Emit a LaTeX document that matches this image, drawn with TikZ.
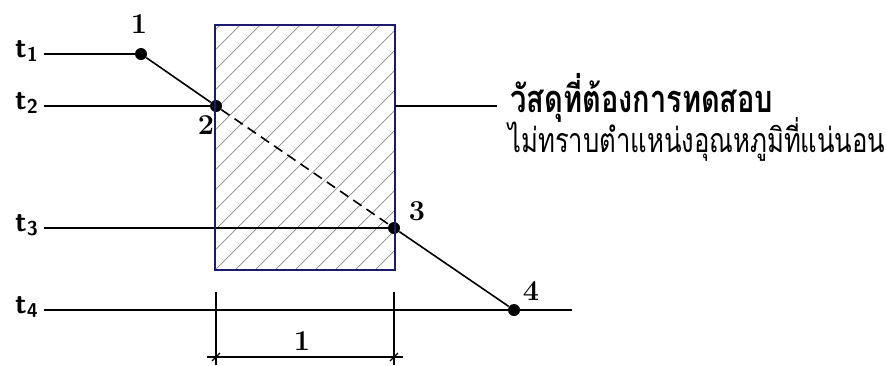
\documentclass[tikz,border=0pt]{standalone}
\usepackage{fontspec}
\usepackage{graphicx}
\newfontfamily\thaifont[Script=Thai]{Loma}
\usepackage{tikz}
\usetikzlibrary{positioning}
\definecolor{SpecBlue}{HTML}{1A1A6E}
\definecolor{HatchGray}{HTML}{8A8A8A}

\begin{document}
\begin{tikzpicture}[x=0.5pt, y=-0.5pt]
\tikzset{
  dot/.style={circle, fill=black, minimum size=6pt, inner sep=0},
  tlabel/.style={font=\sffamily\bfseries\Large, inner sep=0},
  numlabel/.style={font=\bfseries\Large, inner sep=0},
  isotherm/.style={line width=0.6pt},
  specimen/.style={draw=SpecBlue, line width=1.4pt},
  hatch/.style={HatchGray, line width=0.35pt},
  gradient/.style={line width=0.8pt},
}
  \useasboundingbox (0,0) rectangle (886,365);

  % hatched specimen
  \fill[white] (215,25) rectangle (395,270);
  \begin{scope}
    \clip (215,25) rectangle (395,270);
    \foreach \i in {-260,-240,...,180}
      \draw[hatch] (215+\i,270) -- ++(245,-245);
  \end{scope}
  \coordinate (boxE) at (395,106);

  % measuring points
  \node[dot] (p1) at (141,54) {};
  \node[dot] (p2) at (216,106) {};
  \node[dot] (p3) at (394,228) {};
  \node[dot] (p4) at (514,310) {};
  \node[numlabel] (n1) at (139,24) {1};
  \node[numlabel] (n2) at (206,125) {2};
  \node[numlabel] (n3) at (417,211) {3};
  \node[numlabel] (n4) at (531,291) {4};

  % temperature levels
  \node[tlabel] (t1) at (27,51) {t\textsubscript{1}};
  \node[tlabel] (t2) at (27,103) {t\textsubscript{2}};
  \node[tlabel] (t3) at (27,225) {t\textsubscript{3}};
  \node[tlabel] (t4) at (27,307) {t\textsubscript{4}};
  \coordinate (t4end) at (572,310);
  \draw[isotherm] (44,54) -- (p1);
  \draw[isotherm] (44,106) -- (p2);
  \draw[isotherm] (44,228) -- (p3);
  \draw[isotherm] (44,310) -- (t4end);

  % temperature profile
  \draw[gradient] (p1) -- (p2);
  \draw[gradient, dash pattern=on 5pt off 3pt] (p2) -- (p3);
  \draw[gradient] (p3) -- (p4);

  % specimen outline on top
  \draw[specimen] (215,25) rectangle (395,270);

  % callout text
  \node[anchor=base west, inner sep=0, font=\thaifont\bfseries\fontsize{19pt}{21pt}\selectfont]
    (title) at (510,112) {\resizebox{131.5pt}{\height}{วัสดุที่ต้องการทดสอบ}};
  \node[anchor=base west, inner sep=0, font=\thaifont\fontsize{17pt}{19pt}\selectfont]
    (subtitle) at (508,152) {\resizebox{188.5pt}{\height}{ไม่ทราบตำแหน่งอุณหภูมิที่แน่นอน}};
  \coordinate (leadEnd) at (497,106);
  \draw[isotherm] (boxE) -- (leadEnd);

  % thickness dimension
  \coordinate (dimL) at (216,357);
  \coordinate (dimR) at (394,357);
  \draw[isotherm] (216,292) -- (216,365);
  \draw[isotherm] (394,292) -- (394,365);
  \draw[isotherm] (207,357) -- (403,357);
  \draw[isotherm] ([shift={(-4,4)}]dimL) -- ([shift={(4,-4)}]dimL);
  \draw[isotherm] ([shift={(-4,4)}]dimR) -- ([shift={(4,-4)}]dimR);
  \node[numlabel] (len) at (302,341) {1};
\end{tikzpicture}
\end{document}
